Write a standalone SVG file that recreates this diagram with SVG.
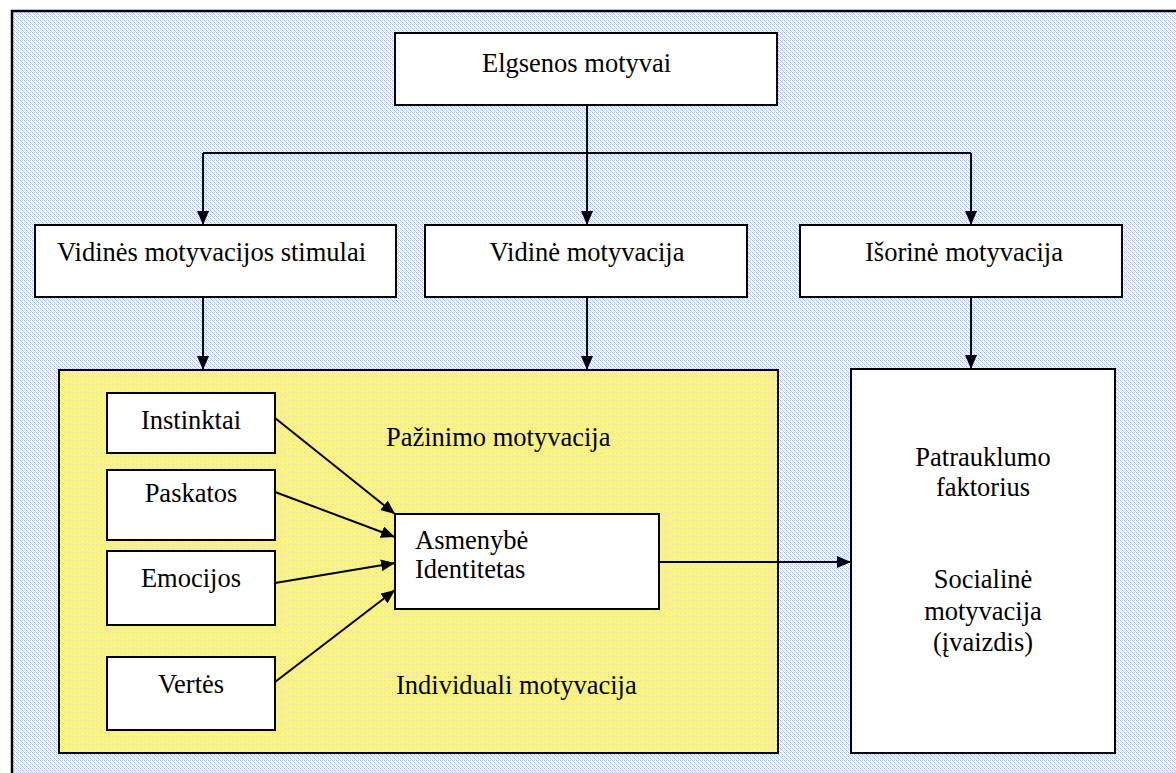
<svg xmlns="http://www.w3.org/2000/svg" width="1176" height="773" viewBox="0 0 1176 773">
  <defs>
    <!-- dotted fills -->
    <pattern id="dotsBlue" width="4" height="4" patternUnits="userSpaceOnUse">
      <rect width="4" height="4" fill="#fafbff"/>
      <rect x="0" y="0" width="1" height="1" fill="#a3b8f3"/>
      <rect x="2" y="0" width="1" height="1" fill="#d3ddfa"/>
      <rect x="1" y="1" width="1" height="1" fill="#bccbf7"/>
      <rect x="2" y="2" width="1" height="1" fill="#a3b8f3"/>
      <rect x="0" y="2" width="1" height="1" fill="#d3ddfa"/>
      <rect x="3" y="3" width="1" height="1" fill="#bccbf7"/>
    </pattern>
    <pattern id="dotsYellow" width="4" height="4" patternUnits="userSpaceOnUse">
      <rect width="4" height="4" fill="#ffff48"/>
      <rect x="0" y="0" width="1" height="1" fill="#d6dad8"/>
      <rect x="2" y="2" width="1" height="1" fill="#e6e8b8"/>
    </pattern>
    <marker id="arrow" viewBox="0 0 14 12" refX="14" refY="6" markerWidth="14" markerHeight="12" markerUnits="userSpaceOnUse" orient="auto">
      <path d="M0,0 L14,6 L0,12 Z" fill="#000"/>
    </marker>
  </defs>
  <style>
    .box { fill: #fff; stroke: #000; stroke-width: 2; }
    .lbl { font-family: 'Liberation Serif', 'DejaVu Serif', 'Times New Roman', serif; font-size: 26.5px; fill: #000; }
    .mid { text-anchor: middle; }
    .conn { fill: none; stroke: #000; stroke-width: 2; }
  </style>

  <!-- page background and frame -->
  <rect x="0" y="0" width="1176" height="773" fill="#fff"/>
  <rect x="13" y="12" width="1163" height="761" fill="url(#dotsBlue)"/>
  <path d="M12,773 V11 H1176" fill="none" stroke="#000" stroke-width="2.5"/>

  <!-- yellow area -->
  <g id="individual-area">
    <rect x="59" y="370" width="719" height="383" fill="url(#dotsYellow)" stroke="#000" stroke-width="2"/>
    <text class="lbl" x="386" y="446">Pažinimo motyvacija</text>
    <text class="lbl" x="396" y="694">Individuali motyvacija</text>
  </g>

  <g id="elgsenos-motyvai">
    <rect class="box" x="395" y="33" width="382" height="72"/>
    <text class="lbl" x="482" y="72">Elgsenos motyvai</text>
  </g>

  <g id="vidines-stimulai">
    <rect class="box" x="35" y="225" width="361" height="72"/>
    <text class="lbl" x="57" y="261">Vidinės motyvacijos stimulai</text>
  </g>

  <g id="vidine-motyvacija">
    <rect class="box" x="425" y="225" width="322" height="72"/>
    <text class="lbl mid" x="587" y="261">Vidinė motyvacija</text>
  </g>

  <g id="isorine-motyvacija">
    <rect class="box" x="800" y="225" width="322" height="72"/>
    <text class="lbl mid" x="964" y="261">Išorinė motyvacija</text>
  </g>

  <g id="instinktai">
    <rect class="box" x="107" y="393" width="168" height="60"/>
    <text class="lbl mid" x="191" y="429">Instinktai</text>
  </g>

  <g id="paskatos">
    <rect class="box" x="107" y="470" width="168" height="70"/>
    <text class="lbl mid" x="191" y="502">Paskatos</text>
  </g>

  <g id="emocijos">
    <rect class="box" x="107" y="551" width="168" height="74"/>
    <text class="lbl mid" x="191" y="587">Emocijos</text>
  </g>

  <g id="vertes">
    <rect class="box" x="107" y="657" width="168" height="73"/>
    <text class="lbl mid" x="191" y="693">Vertės</text>
  </g>

  <g id="asmenybe">
    <rect class="box" x="395" y="514" width="264" height="95"/>
    <text class="lbl" x="415" y="549">Asmenybė</text>
    <text class="lbl" x="415" y="578">Identitetas</text>
  </g>

  <g id="patrauklumo">
    <rect class="box" x="851" y="369" width="264" height="384"/>
    <text class="lbl mid" x="983" y="466">Patrauklumo</text>
    <text class="lbl mid" x="983" y="496">faktorius</text>
    <text class="lbl mid" x="983" y="588">Socialinė</text>
    <text class="lbl mid" x="983" y="620">motyvacija</text>
    <text class="lbl mid" x="983" y="651">(įvaizdis)</text>
  </g>

  <g id="connectors">
    <path class="conn" d="M587,105 V153 M203,153 H971"/>
    <path class="conn" d="M203,153 V225" marker-end="url(#arrow)"/>
    <path class="conn" d="M587,153 V225" marker-end="url(#arrow)"/>
    <path class="conn" d="M971,153 V225" marker-end="url(#arrow)"/>
    <path class="conn" d="M203,297 V370" marker-end="url(#arrow)"/>
    <path class="conn" d="M587,297 V370" marker-end="url(#arrow)"/>
    <path class="conn" d="M971,297 V369" marker-end="url(#arrow)"/>
    <path class="conn" d="M275,418 L395,514" marker-end="url(#arrow)"/>
    <path class="conn" d="M275,492 L395,537" marker-end="url(#arrow)"/>
    <path class="conn" d="M275,583 L395,563" marker-end="url(#arrow)"/>
    <path class="conn" d="M275,682 L395,590" marker-end="url(#arrow)"/>
    <path class="conn" d="M659,562 H851" marker-end="url(#arrow)"/>
  </g>
</svg>
